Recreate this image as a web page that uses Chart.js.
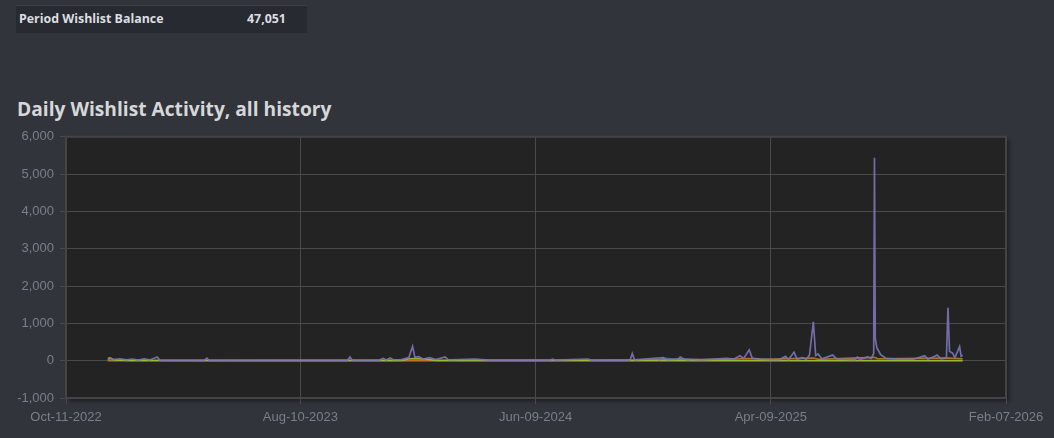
<!DOCTYPE html>
<html>
<head>
<meta charset="utf-8">
<title>Daily Wishlist Activity</title>
<script src="https://cdn.jsdelivr.net/npm/chart.js@4.4.1/dist/chart.umd.min.js"></script>
<style>
    html, body {
        margin: 0;
        padding: 0;
        width: 1054px;
        height: 438px;
        overflow: hidden;
        background: #31343b;
    }
    .summary {
        position: absolute;
        left: 16px;
        top: 5px;
        width: 291px;
        height: 27px;
        background: #272a31;
        border-top: 1px solid #3c3f46;
        font-family: "Open Sans", sans-serif;
        font-weight: bold;
        font-size: 12.4px;
        color: #dcdee2;
    }
    .summary span {
        position: absolute;
        top: 4px;
    }
    .summary .label { left: 3px; }
    .summary .value { left: 231px; }
    h2 {
        position: absolute;
        left: 17px;
        top: 95px;
        margin: 0;
        font-family: "Open Sans", sans-serif;
        font-weight: bold;
        font-size: 19.2px;
        color: #d6d7d9;
    }
    #chartWrap {
        position: absolute;
        left: 0;
        top: 123px;
        width: 1054px;
        height: 315px;
    }
</style>
</head>
<body>
<div class="summary">
    <span class="label">Period Wishlist Balance</span>
    <span class="value">47,051</span>
</div>
<h2>Daily Wishlist Activity, all history</h2>
<div id="chartWrap">
    <canvas id="chartWishlist" width="1054" height="315"></canvas>
</div>

<script>
// tanggal tick sumbu x
const tickDates = ['2022-10-11', '2023-08-10', '2024-06-09', '2025-04-09', '2026-02-07'];
const yTicks = [-1000, 0, 1000, 2000, 3000, 4000, 5000, 6000];

// wishlist adds (garis ungu)
const addDates = [
    '2022-12-04', '2022-12-08', '2022-12-11', '2022-12-20', '2022-12-28', '2023-01-05', '2023-01-12',
    '2023-01-20', '2023-01-27', '2023-02-06', '2023-02-09', '2023-03-10', '2023-04-08', '2023-04-11',
    '2023-04-14', '2023-06-15', '2023-08-20', '2023-10-10', '2023-10-13', '2023-10-16', '2023-11-20',
    '2023-11-25', '2023-11-29', '2023-12-04', '2023-12-08', '2023-12-18', '2023-12-28', '2024-01-02',
    '2024-01-05', '2024-01-10', '2024-01-16', '2024-01-24', '2024-02-01', '2024-02-13', '2024-02-17',
    '2024-03-23', '2024-04-10', '2024-06-28', '2024-07-01', '2024-07-04', '2024-08-16', '2024-08-19',
    '2024-10-09', '2024-10-12', '2024-10-15', '2024-11-21', '2024-11-25', '2024-12-10', '2024-12-13',
    '2024-12-18', '2025-01-10', '2025-02-11', '2025-02-20', '2025-02-28', '2025-03-05', '2025-03-12',
    '2025-03-16', '2025-03-25', '2025-04-09', '2025-04-20', '2025-04-28', '2025-05-02', '2025-05-09',
    '2025-05-13', '2025-05-20', '2025-05-25', '2025-05-29', '2025-06-03', '2025-06-06', '2025-06-09',
    '2025-06-14', '2025-06-28', '2025-07-03', '2025-07-27', '2025-07-30', '2025-08-02', '2025-08-12',
    '2025-08-17', '2025-08-20', '2025-08-21', '2025-08-22', '2025-08-24', '2025-08-29', '2025-09-05',
    '2025-09-20', '2025-10-10', '2025-10-25', '2025-10-29', '2025-11-07', '2025-11-10', '2025-11-15',
    '2025-11-22', '2025-11-24', '2025-11-26', '2025-11-30', '2025-12-03', '2025-12-09', '2025-12-11',
    '2025-12-13'
];
const addValues = [
    20, 60, 30, 50, 20, 45, 15,
    50, 20, 100, 15, 10, 10, 70,
    10, 8, 10, 10, 100, 12, 15,
    60, 20, 70, 25, 30, 80, 380,
    90, 110, 40, 80, 30, 100, 25,
    40, 15, 15, 40, 15, 45, 15,
    15, 190, 20, 80, 25, 40, 100,
    40, 20, 60, 40, 130, 60, 290,
    70, 40, 30, 30, 115, 30, 230,
    40, 80, 40, 150, 1040, 140, 180,
    50, 150, 50, 30, 100, 30, 100,
    60, 200, 5440, 600, 350, 160, 60,
    40, 40, 130, 40, 120, 150, 50,
    80, 1420, 250, 200, 80, 380, 120,
    150
];

// wishlist deletes (garis oranye)
const deleteDates = [
    '2022-12-04', '2023-12-01', '2024-09-01', '2024-12-01', '2025-02-10', '2025-03-12', '2025-04-01',
    '2025-06-03', '2025-06-10', '2025-08-21', '2025-08-25', '2025-11-24', '2025-12-13'
];
const deleteValues = [5, 8, 10, 25, 40, 60, 40, 70, 40, 90, 50, 70, 50];

// purchases (garis hijau)
const purchaseDates = [
    '2022-12-04', '2022-12-07', '2022-12-12', '2023-01-01', '2023-12-20', '2023-12-28', '2024-01-05',
    '2024-01-20', '2024-02-01', '2025-12-13'
];
const purchaseValues = [60, 80, 20, 5, 5, 50, 60, 40, 5, 5];

// gifts (garis biru)
const giftDates = ['2024-11-15', '2024-11-21', '2024-12-05', '2024-12-13', '2024-12-25'];
const giftValues = [10, 70, 40, 60, 10];

// garis merah di sekitar nol
const otherDates = ['2022-12-04', '2024-06-01', '2025-12-13'];
const otherValues = [-5, -8, -10];

const monthNames = ['Jan', 'Feb', 'Mar', 'Apr', 'May', 'Jun', 'Jul', 'Aug', 'Sep', 'Oct', 'Nov', 'Dec'];

function toPoints(dates, values) {
    return dates.map((d, i) => ({ x: Date.parse(d), y: values[i] }));
}

function formatDate(ms) {
    const d = new Date(ms);
    const dd = String(d.getUTCDate()).padStart(2, '0');
    return monthNames[d.getUTCMonth()] + '-' + dd + '-' + d.getUTCFullYear();
}

// background area plot + bingkai
const plotFrame = {
    id: 'plotFrame',
    beforeDraw(chart) {
        const ctx = chart.ctx;
        const a = chart.chartArea;
        ctx.save();
        ctx.shadowColor = 'rgba(0, 0, 0, 0.45)';
        ctx.shadowOffsetX = 3;
        ctx.shadowOffsetY = 3;
        ctx.shadowBlur = 4;
        ctx.fillStyle = '#232323';
        ctx.fillRect(a.left, a.top, a.width, a.height);
        ctx.restore();
    },
    afterDraw(chart) {
        const ctx = chart.ctx;
        const a = chart.chartArea;
        ctx.save();
        ctx.strokeStyle = '#444444';
        ctx.lineWidth = 2;
        ctx.strokeRect(a.left, a.top, a.width, a.height);
        ctx.restore();
    }
};

function lineSet(label, dates, values, color, width) {
    return {
        label: label,
        data: toPoints(dates, values),
        borderColor: color,
        borderWidth: width,
        pointRadius: 0,
        tension: 0,
        fill: false
    };
}

const tickFont = { family: '"Liberation Sans", Arial, sans-serif', size: 13 };

var ctx = document.getElementById('chartWishlist').getContext('2d');
var myChart = new Chart(ctx, {
    type: 'line',
    data: {
        datasets: [
            lineSet('Adds', addDates, addValues, 'rgba(124, 116, 182, 0.9)', 1.7),
            lineSet('Gifts', giftDates, giftValues, 'rgba(80, 130, 200, 0.8)', 1.5),
            lineSet('Purchases', purchaseDates, purchaseValues, 'rgba(150, 200, 40, 0.9)', 1.5),
            lineSet('Deletes', deleteDates, deleteValues, 'rgba(200, 120, 30, 0.9)', 1.6),
            lineSet('Other', otherDates, otherValues, 'rgba(140, 90, 110, 0.8)', 1.5)
        ]
    },
    options: {
        responsive: false,
        animation: false,
        devicePixelRatio: 1,
        layout: { padding: { top: 7, right: 48, left: 0, bottom: 0 } },
        plugins: {
            legend: { display: false },
            tooltip: { enabled: false }
        },
        scales: {
            x: {
                type: 'linear',
                min: Date.parse(tickDates[0]),
                max: Date.parse(tickDates[tickDates.length - 1]),
                afterBuildTicks: (scale) => {
                    scale.ticks = tickDates.map(d => ({ value: Date.parse(d) }));
                },
                afterFit: (scale) => { scale.height = 40; },
                border: { display: false },
                grid: { color: '#4a4a4a', tickLength: 6, lineWidth: 1 },
                ticks: {
                    color: '#7b7e86',
                    font: tickFont,
                    padding: 6,
                    maxRotation: 0,
                    autoSkip: false,
                    callback: (value) => formatDate(value)
                }
            },
            y: {
                min: yTicks[0],
                max: yTicks[yTicks.length - 1],
                afterBuildTicks: (scale) => {
                    scale.ticks = yTicks.map(v => ({ value: v }));
                },
                afterFit: (scale) => { scale.width = 66; },
                border: { display: false },
                grid: { color: '#4a4a4a', tickLength: 6, lineWidth: 1 },
                ticks: {
                    color: '#7b7e86',
                    font: tickFont,
                    padding: 6,
                    callback: (value) => value.toLocaleString('en-US')
                }
            }
        }
    },
    plugins: [plotFrame]
});
</script>
</body>
</html>
